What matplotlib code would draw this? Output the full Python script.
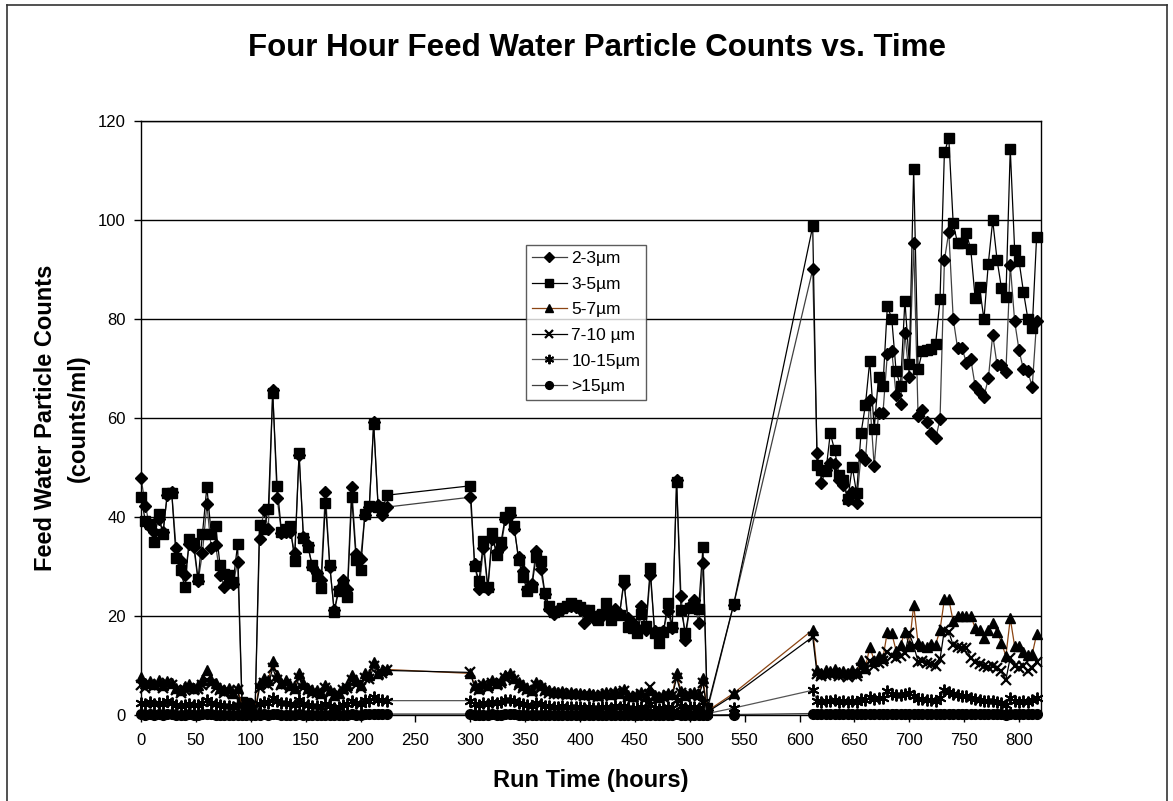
import matplotlib
matplotlib.use("Agg")
import matplotlib.pyplot as plt
from matplotlib.lines import Line2D

plt.rcParams["font.family"] = ["Liberation Sans", "DejaVu Sans"]

# sampling times (hours), one reading every 4 h with gaps in the record
hours = (list(range(0, 225, 4)) + list(range(300, 517, 4)) + [540]
         + list(range(612, 817, 4)))

um_2_3 = [
    47.9, 42.3, 38.0, 37.0, 39.5, 37.0, 44.5, 45.0, 33.7, 31.2, 28.3, 34.5,
    34.0, 27.0, 32.8, 42.6, 33.7, 34.3, 28.3, 25.9, 26.8, 26.5, 31.0,
    2.5, 2.0, 2.2, 1.5,
    35.5, 41.5, 37.5, 65.7, 43.9, 36.8, 37.0, 37.0, 32.8, 52.5, 36.0, 34.3,
    30.0, 28.7, 27.3, 45.1, 30.0, 21.2, 25.4, 27.3, 25.5, 46.1, 32.5, 31.5,
    40.5, 42.0, 59.1, 42.5, 40.4, 42.0,
    44.0, 30.5, 25.4, 33.7, 25.4, 35.5, 33.0, 34.0, 39.5, 40.5, 37.5, 31.9,
    29.0, 25.5, 26.5, 33.2, 29.4, 24.5, 21.5, 20.5, 21.3, 21.5, 22.0, 22.0,
    21.8, 21.5, 18.5, 20.0, 19.5, 20.3, 20.0, 21.0, 20.0, 21.5, 20.5, 26.5,
    19.5, 18.5, 17.5, 22.0, 17.2, 28.3, 17.0, 16.0, 17.0, 21.0, 17.5, 47.5,
    24.0, 15.2, 22.0, 23.2, 18.5, 30.8,
    1.0, 22.3, 90.0,
    52.9, 46.9, 49.5, 51.0, 50.7, 47.5, 46.5, 43.5, 45.0, 42.8, 52.5, 51.5,
    63.6, 50.3, 61.0, 61.0, 72.9, 73.6, 64.6, 62.8, 77.1, 68.3, 95.3, 60.4,
    61.6, 59.1, 56.9, 55.9, 59.7, 91.9, 97.6, 80.1, 74.1, 74.1, 71.2, 71.9,
    66.5, 65.3, 64.3, 68.0, 76.8, 70.7, 70.7, 69.2, 90.9, 79.5, 73.7, 69.8,
    69.4, 66.3, 79.5,
]

um_3_5 = [
    44.1, 39.1, 38.5, 34.9, 40.7, 36.5, 44.9, 44.9, 31.8, 29.2, 25.8, 35.5,
    34.8, 27.4, 36.6, 46.1, 36.6, 38.2, 30.3, 28.5, 28.3, 26.9, 34.5,
    2.7, 2.5, 1.8, 1.5,
    38.4, 37.5, 41.6, 65.0, 46.3, 37.0, 37.5, 38.2, 31.1, 53.0, 35.7, 34.0,
    30.3, 28.0, 25.6, 42.8, 30.3, 20.8, 25.0, 26.0, 23.9, 44.1, 31.3, 29.2,
    40.6, 42.2, 58.8, 42.1, 41.5, 44.4,
    46.3, 30.1, 27.1, 35.1, 25.8, 36.7, 32.3, 34.9, 40.1, 41.1, 38.2, 31.3,
    27.9, 25.1, 25.8, 32.0, 31.1, 24.6, 22.0, 20.9, 21.0, 21.7, 22.0, 22.7,
    22.2, 21.8, 21.2, 21.2, 19.9, 19.2, 20.5, 22.6, 19.2, 20.5, 20.2, 27.3,
    17.8, 17.5, 16.5, 20.5, 18.0, 29.6, 16.5, 14.6, 16.8, 22.7, 17.7, 47.1,
    21.3, 16.6, 21.7, 22.5, 21.5, 33.9,
    1.5, 22.4, 98.7,
    50.5, 49.5, 49.2, 56.9, 53.5, 48.5, 47.5, 43.6, 50.2, 44.8, 56.9, 62.6,
    71.6, 57.8, 68.3, 66.5, 82.6, 80.1, 69.4, 66.5, 83.7, 71.0, 110.3, 69.8,
    73.6, 73.7, 73.9, 75.0, 84.0, 113.7, 116.5, 99.3, 95.3, 95.3, 97.3, 94.1,
    84.2, 86.5, 79.9, 91.2, 99.9, 91.9, 86.2, 84.4, 114.3, 93.9, 91.7, 85.5,
    80.1, 78.1, 96.6,
]

um_5_7 = [
    7.7, 6.5, 6.8, 6.2, 7.0, 6.0, 6.8, 6.5, 5.5, 5.0, 5.8, 6.2,
    5.5, 6.0, 7.0, 9.0, 7.0, 6.5, 5.5, 5.0, 5.5, 4.5, 5.5,
    1.5, 1.0, 1.2, 0.8,
    6.5, 7.5, 7.0, 11.0, 8.0, 6.5, 7.0, 6.0, 5.5, 8.5, 6.5, 5.5,
    5.0, 5.0, 4.5, 6.0, 5.0, 4.0, 4.5, 5.5, 6.0, 8.0, 7.0, 6.0,
    8.5, 8.0, 10.8, 8.5, 9.0, 9.2,
    8.4, 6.1, 5.5, 6.5, 6.0, 7.1, 6.5, 7.0, 8.1, 8.4, 7.5, 6.7,
    6.1, 5.5, 5.0, 6.7, 6.0, 5.3, 5.0, 4.8, 4.6, 4.8, 4.5, 4.7,
    4.5, 4.4, 4.2, 4.5, 4.3, 4.0, 4.4, 4.6, 4.2, 4.8, 4.5, 5.2,
    4.0, 3.8, 4.2, 4.6, 3.9, 5.0, 4.0, 3.7, 4.1, 4.5, 4.2, 8.4,
    4.8, 4.0, 4.5, 4.7, 4.2, 7.5,
    0.8, 4.4, 17.2,
    9.1, 8.5, 9.0, 8.8, 9.2, 8.6, 8.8, 8.4, 9.0, 8.7, 11.1, 9.5,
    13.8, 11.0, 12.0, 11.5, 16.8, 16.5, 13.0, 14.1, 16.8, 14.0, 22.2, 14.5,
    14.0, 13.8, 14.3, 14.2, 17.2, 23.4, 23.4, 18.9, 19.9, 20.0, 20.0, 20.0,
    17.6, 17.2, 15.5, 17.2, 18.6, 16.8, 14.6, 11.9, 19.5, 13.9, 14.0, 12.8,
    12.1, 12.3, 16.3,
]

um_7_10 = [
    6.0, 5.5, 6.2, 5.8, 6.0, 5.5, 6.5, 6.0, 5.0, 4.5, 5.0, 5.5,
    5.0, 5.2, 6.0, 7.0, 6.2, 5.5, 5.0, 4.5, 4.8, 4.2, 5.0,
    1.0, 0.8, 1.0, 0.6,
    5.5, 6.5, 6.0, 9.5, 7.0, 6.0, 6.2, 5.5, 5.0, 7.5, 5.5, 5.0,
    4.5, 4.5, 4.0, 5.5, 4.5, 3.8, 4.2, 5.0, 5.5, 7.0, 6.0, 5.5,
    7.5, 7.2, 9.8, 8.0, 8.5, 9.0,
    8.6, 5.5, 5.0, 6.0, 5.5, 6.5, 6.0, 6.5, 7.5, 7.8, 7.0, 6.0,
    5.5, 5.0, 4.6, 6.0, 5.5, 4.8, 4.5, 4.3, 4.2, 4.4, 4.1, 4.3,
    4.1, 4.0, 3.8, 4.1, 3.9, 3.6, 4.0, 4.2, 3.8, 4.4, 4.1, 4.8,
    3.6, 3.5, 3.8, 4.2, 3.5, 5.7, 3.6, 3.4, 3.7, 4.1, 3.8, 7.5,
    4.4, 3.6, 4.1, 4.3, 3.8, 6.5,
    0.6, 4.0, 15.8,
    8.2, 7.8, 8.0, 8.3, 8.5, 7.9, 8.0, 7.6, 8.2, 7.8, 9.5, 9.0,
    11.0, 10.0, 10.5, 11.0, 12.8, 12.0, 11.6, 12.0, 12.5, 16.5, 14.0, 10.8,
    11.0, 10.5, 10.3, 10.0, 11.3, 17.2, 16.8, 14.1, 13.8, 13.6, 13.5, 11.6,
    10.8, 10.3, 10.0, 9.6, 9.8, 9.4, 8.8, 7.1, 11.6, 9.8, 9.4, 9.8,
    8.8, 9.4, 10.8,
]

um_10_15 = [
    2.5, 2.2, 2.6, 2.3, 2.5, 2.2, 2.8, 2.4, 2.0, 1.8, 2.0, 2.2,
    2.0, 2.1, 2.4, 3.0, 2.5, 2.2, 2.0, 1.8, 1.9, 1.7, 2.0,
    0.4, 0.3, 0.4, 0.3,
    2.2, 2.6, 2.4, 3.5, 2.8, 2.4, 2.5, 2.2, 2.0, 3.0, 2.2, 2.0,
    1.8, 1.8, 1.6, 2.2, 1.8, 1.5, 1.7, 2.0, 2.2, 2.8, 2.4, 2.2,
    3.0, 2.9, 3.6, 3.0, 3.0, 2.9,
    2.9, 2.2, 2.0, 2.4, 2.2, 2.6, 2.4, 2.6, 3.0, 3.1, 2.8, 2.4,
    2.2, 2.0, 1.8, 2.4, 2.2, 1.9, 1.8, 1.7, 1.7, 1.8, 1.6, 1.7,
    1.6, 1.6, 1.5, 1.6, 1.5, 1.4, 1.6, 1.7, 1.5, 1.8, 1.6, 1.9,
    1.4, 1.4, 1.5, 1.7, 1.4, 2.3, 1.4, 1.3, 1.5, 1.6, 1.5, 3.0,
    1.8, 1.4, 1.6, 1.7, 1.5, 2.6,
    0.3, 1.4, 5.0,
    2.9, 2.7, 2.8, 2.9, 3.0, 2.7, 2.8, 2.6, 2.8, 2.7, 3.2, 3.0,
    3.6, 3.2, 3.4, 3.5, 4.8, 4.2, 4.0, 4.1, 4.2, 4.5, 3.8, 3.2,
    3.3, 3.1, 3.0, 2.9, 3.4, 5.0, 4.6, 4.2, 4.0, 3.9, 3.8, 3.4,
    3.2, 3.0, 2.9, 2.8, 2.8, 2.7, 2.5, 2.0, 3.4, 2.8, 2.6, 2.9,
    2.7, 3.0, 3.4,
]

um_15_up = [
    0.2, 0.1, 0.2, 0.1, 0.2, 0.1, 0.2, 0.2, 0.1, 0.1, 0.1, 0.2,
    0.1, 0.1, 0.2, 0.2, 0.2, 0.1, 0.1, 0.1, 0.1, 0.1, 0.1,
    0.0, 0.0, 0.0, 0.0,
    0.1, 0.2, 0.1, 0.3, 0.2, 0.1, 0.1, 0.1, 0.1, 0.2, 0.1, 0.1,
    0.1, 0.1, 0.1, 0.1, 0.1, 0.1, 0.1, 0.1, 0.1, 0.2, 0.1, 0.1,
    0.2, 0.2, 0.3, 0.2, 0.2, 0.2,
    0.2, 0.1, 0.1, 0.1, 0.1, 0.2, 0.1, 0.1, 0.2, 0.2, 0.2, 0.1,
    0.1, 0.1, 0.1, 0.1, 0.1, 0.1, 0.1, 0.1, 0.1, 0.1, 0.1, 0.1,
    0.1, 0.1, 0.1, 0.1, 0.1, 0.1, 0.1, 0.1, 0.1, 0.1, 0.1, 0.1,
    0.1, 0.1, 0.1, 0.1, 0.1, 0.1, 0.1, 0.1, 0.1, 0.1, 0.1, 0.2,
    0.1, 0.1, 0.1, 0.1, 0.1, 0.1,
    0.0, 0.1, 0.3,
    0.2, 0.2, 0.2, 0.2, 0.2, 0.2, 0.2, 0.2, 0.2, 0.2, 0.2, 0.2,
    0.3, 0.2, 0.2, 0.2, 0.3, 0.3, 0.2, 0.2, 0.3, 0.3, 0.3, 0.2,
    0.2, 0.2, 0.2, 0.2, 0.2, 0.3, 0.3, 0.3, 0.3, 0.2, 0.2, 0.2,
    0.2, 0.2, 0.2, 0.2, 0.2, 0.2, 0.2, 0.1, 0.2, 0.2, 0.2, 0.2,
    0.2, 0.2, 0.2,
]

labels = ["2-3\u00b5m", "3-5\u00b5m", "5-7\u00b5m", "7-10 \u00b5m", "10-15\u00b5m", ">15\u00b5m"]
series = [um_2_3, um_3_5, um_5_7, um_7_10, um_10_15, um_15_up]
styles = [
    dict(color="#404040", marker="D", ms=5.8),
    dict(color="black", marker="s", ms=7.5),
    dict(color="#8B4513", marker="^", ms=7.5),
    dict(color="black", marker="x", ms=7.5, mew=1.6),
    dict(color="#555555", marker=(6, 2, 0), ms=8.5, mew=1.4),
    dict(color="#404040", marker="o", ms=7.0),
]

W, H = 1173, 801
fig = plt.figure(figsize=(W / 100, H / 100), dpi=100)

# chart-area border
fig.add_artist(Line2D([7 / W, 7 / W], [0, 1 - 5 / H], color="#333333", lw=1.2))
fig.add_artist(Line2D([7 / W, 1167 / W], [1 - 5 / H, 1 - 5 / H], color="#333333", lw=1.2))
fig.add_artist(Line2D([1167 / W, 1167 / W], [0, 1 - 5 / H], color="#333333", lw=1.2))

ax = fig.add_axes([141 / W, 1 - 715 / H, 900 / W, 594 / H])

handles = []
for vals, lab, st in zip(series, labels, styles):
    h, = ax.plot(hours, vals, color=st["color"], lw=0.9, marker=st["marker"],
                 ms=st["ms"], mfc="black", mec="black", mew=st.get("mew", 1.0),
                 label=lab, clip_on=False)
    handles.append(h)

ax.set_xlim(0, 820)
ax.set_ylim(0, 120)
ax.set_xticks(range(0, 801, 50))
ax.set_yticks(range(0, 121, 20))
ax.yaxis.grid(True, color="black", lw=1.0)
ax.set_axisbelow(True)
for s in ax.spines.values():
    s.set_color("black")
    s.set_linewidth(1.0)
ax.tick_params(axis="both", direction="out", length=5, width=1, labelsize=12,
               colors="black")
ax.tick_params(axis="x", pad=8)
ax.tick_params(axis="y", pad=6)

ax.set_xlabel("Run Time (hours)", fontsize=17, fontweight="bold", labelpad=15)
fig.text(62 / W, 1 - 418 / H, "Feed Water Particle Counts\n(counts/ml)",
         rotation=90, ha="center", va="center", fontsize=17,
         fontweight="bold", linespacing=1.5)
fig.text(597 / W, 1 - 48 / H, "Four Hour Feed Water Particle Counts vs. Time",
         ha="center", va="center", fontsize=22.5, fontweight="bold")

leg = fig.legend(handles=handles, loc="upper left",
                 bbox_to_anchor=(526 / W, 1 - 245 / H), borderaxespad=0,
                 fontsize=12.5, frameon=True, fancybox=False, edgecolor="#333333",
                 handlelength=2.0, handletextpad=0.25, labelspacing=0.6,
                 borderpad=0.35, numpoints=1, markerscale=0.8)
leg.get_frame().set_linewidth(1.0)

fig.savefig("out.png", dpi=100)
